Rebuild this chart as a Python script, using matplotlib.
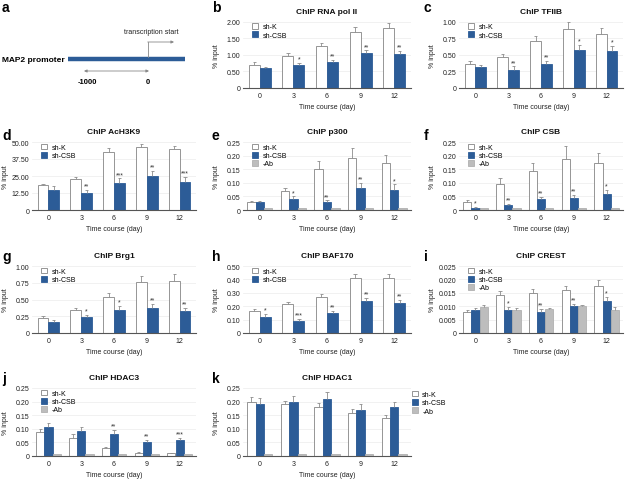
import matplotlib
matplotlib.use('Agg')
import matplotlib.pyplot as plt
import numpy as np

plt.rcParams['font.family'] = ['Liberation Sans', 'DejaVu Sans']

# ---------------- data ----------------
days = ['0', '3', '6', '9', '12']
series_names = ['sh-K', 'sh-CSB', '-Ab']

# b  ChIP RNA pol II
polII_shK = [0.70, 0.95, 1.25, 1.68, 1.80]
polII_shK_err = [0.07, 0.09, 0.09, 0.14, 0.14]
polII_shCSB = [0.59, 0.69, 0.78, 1.05, 1.03]
polII_shCSB_err = [0.05, 0.06, 0.06, 0.08, 0.08]
polII_stars = ['', '*', '**', '**', '**']

# c  ChIP TFIIB
tfiib_shK = [0.36, 0.46, 0.71, 0.885, 0.81]
tfiib_shK_err = [0.04, 0.05, 0.075, 0.10, 0.09]
tfiib_shCSB = [0.31, 0.275, 0.36, 0.565, 0.55]
tfiib_shCSB_err = [0.04, 0.05, 0.05, 0.085, 0.085]
tfiib_stars = ['', '**', '**', '*', '*']

# d  ChIP AcH3K9
ach3k9_shK = [18.5, 22.6, 42.5, 46.1, 44.5]
ach3k9_shK_err = [0.8, 1.5, 3.1, 2.4, 2.8]
ach3k9_shCSB = [15.0, 12.5, 20.2, 25.0, 20.9]
ach3k9_shCSB_err = [2.3, 2.0, 3.1, 3.8, 3.6]
ach3k9_stars = ['', '**', '***', '**', '***']

# e  ChIP p300
p300_shK = [0.030, 0.069, 0.150, 0.190, 0.171]
p300_shK_err = [0.004, 0.012, 0.030, 0.038, 0.032]
p300_shCSB = [0.030, 0.040, 0.030, 0.080, 0.075]
p300_shCSB_err = [0.004, 0.010, 0.005, 0.019, 0.019]
p300_ab = [0.008, 0.008, 0.008, 0.008, 0.008]
p300_ab_err = [0, 0, 0, 0, 0]
p300_stars = ['', '*', '**', '**', '*']

# f  ChIP CSB
csb_shK = [0.030, 0.096, 0.1425, 0.1875, 0.171]
csb_shK_err = [0.006, 0.022, 0.029, 0.047, 0.040]
csb_shCSB = [0.009, 0.019, 0.040, 0.044, 0.059]
csb_shCSB_err = [0.0035, 0.003, 0.009, 0.011, 0.015]
csb_ab = [0.008, 0.008, 0.008, 0.008, 0.008]
csb_ab_err = [0, 0, 0, 0, 0]
csb_stars = ['*', '**', '**', '**', '*']

# g  ChIP Brg1
brg1_shK = [0.22, 0.343, 0.544, 0.755, 0.78]
brg1_shK_err = [0.03, 0.037, 0.056, 0.095, 0.10]
brg1_shCSB = [0.17, 0.245, 0.348, 0.372, 0.333]
brg1_shCSB_err = [0.02, 0.03, 0.059, 0.058, 0.047]
brg1_stars = ['', '*', '*', '**', '**']

# h  ChIP BAF170
baf170_shK = [0.1675, 0.2175, 0.2675, 0.408, 0.408]
baf170_shK_err = [0.0125, 0.0175, 0.0225, 0.032, 0.032]
baf170_shCSB = [0.1225, 0.0925, 0.150, 0.2375, 0.225]
baf170_shCSB_err = [0.0175, 0.0125, 0.015, 0.0225, 0.025]
baf170_stars = ['*', '***', '**', '**', '**']

# i  ChIP CREST
crest_shK = [0.00775, 0.0140, 0.0150, 0.0159, 0.0176]
crest_shK_err = [0.0009, 0.0015, 0.0015, 0.0017, 0.0023]
crest_shCSB = [0.00875, 0.00875, 0.00775, 0.0099, 0.0119]
crest_shCSB_err = [0.0006, 0.0009, 0.0011, 0.0010, 0.0015]
crest_ab = [0.0096, 0.00875, 0.0088, 0.0099, 0.00875]
crest_ab_err = [0.0009, 0.0006, 0.0006, 0.0006, 0.0009]
crest_stars = ['', '*', '**', '**', '*']

# j  ChIP HDAC3
hdac3_shK = [0.0866, 0.068, 0.029, 0.011, 0.0098]
hdac3_shK_err = [0.0144, 0.012, 0.005, 0.0024, 0.0022]
hdac3_shCSB = [0.107, 0.0927, 0.0805, 0.050, 0.0585]
hdac3_shCSB_err = [0.016, 0.0143, 0.0145, 0.0085, 0.0095]
hdac3_ab = [0.007, 0.007, 0.007, 0.007, 0.007]
hdac3_ab_err = [0, 0, 0, 0, 0]
hdac3_stars = ['', '', '**', '**', '***']

# k  ChIP HDAC1
hdac1_shK = [0.200, 0.190, 0.179, 0.159, 0.140]
hdac1_shK_err = [0.016, 0.014, 0.017, 0.013, 0.010]
hdac1_shCSB = [0.190, 0.200, 0.209, 0.169, 0.179]
hdac1_shCSB_err = [0.0225, 0.021, 0.026, 0.021, 0.021]
hdac1_ab = [0.006, 0.006, 0.006, 0.006, 0.006]
hdac1_ab_err = [0, 0, 0, 0, 0]
hdac1_stars = ['', '', '', '', '']

# ---------------- style ----------------
W, H = 633, 481
FACE = ['#ffffff', '#2c5c97', '#bdbdbd']
EDGE = ['#858585', '#2c5c97', '#b0b0b0']
ERRC = '#8c8c8c'
BLUE = '#2c5c97'

fig = plt.figure(figsize=(W / 100, H / 100), dpi=100)


def pos(x0, x1, yt, yb):
    return [x0 / W, 1 - yb / H, (x1 - x0) / W, (yb - yt) / H]


COLS = [(32, 196), (243, 411), (459, 623)]
ROWS = [(22.5, 89), (143, 211), (267, 334), (389, 457)]

panels = [
    dict(letter='b', title='ChIP RNA pol II', col=1, row=0,
         ticks=[0, 0.5, 1.0, 1.5, 2.0], dec=2,
         series=[(polII_shK, polII_shK_err), (polII_shCSB, polII_shCSB_err)],
         stars=polII_stars),
    dict(letter='c', title='ChIP TFIIB', col=2, row=0,
         ticks=[0, 0.25, 0.5, 0.75, 1.0], dec=2,
         series=[(tfiib_shK, tfiib_shK_err), (tfiib_shCSB, tfiib_shCSB_err)],
         stars=tfiib_stars),
    dict(letter='d', title='ChIP AcH3K9', col=0, row=1,
         ticks=[0, 12.5, 25.0, 37.5, 50.0], dec=2,
         series=[(ach3k9_shK, ach3k9_shK_err), (ach3k9_shCSB, ach3k9_shCSB_err)],
         stars=ach3k9_stars),
    dict(letter='e', title='ChIP p300', col=1, row=1,
         ticks=[0, 0.05, 0.10, 0.15, 0.20, 0.25], dec=2,
         series=[(p300_shK, p300_shK_err), (p300_shCSB, p300_shCSB_err), (p300_ab, p300_ab_err)],
         stars=p300_stars),
    dict(letter='f', title='ChIP CSB', col=2, row=1,
         ticks=[0, 0.05, 0.10, 0.15, 0.20, 0.25], dec=2,
         series=[(csb_shK, csb_shK_err), (csb_shCSB, csb_shCSB_err), (csb_ab, csb_ab_err)],
         stars=csb_stars),
    dict(letter='g', title='ChIP Brg1', col=0, row=2,
         ticks=[0, 0.25, 0.5, 0.75, 1.0], dec=2,
         series=[(brg1_shK, brg1_shK_err), (brg1_shCSB, brg1_shCSB_err)],
         stars=brg1_stars),
    dict(letter='h', title='ChIP BAF170', col=1, row=2,
         ticks=[0, 0.1, 0.2, 0.3, 0.4, 0.5], dec=2,
         series=[(baf170_shK, baf170_shK_err), (baf170_shCSB, baf170_shCSB_err)],
         stars=baf170_stars),
    dict(letter='i', title='ChIP CREST', col=2, row=2,
         ticks=[0, 0.005, 0.010, 0.015, 0.020, 0.025], dec=3,
         series=[(crest_shK, crest_shK_err), (crest_shCSB, crest_shCSB_err), (crest_ab, crest_ab_err)],
         stars=crest_stars),
    dict(letter='j', title='ChIP HDAC3', col=0, row=3,
         ticks=[0, 0.05, 0.10, 0.15, 0.20, 0.25], dec=2,
         series=[(hdac3_shK, hdac3_shK_err), (hdac3_shCSB, hdac3_shCSB_err), (hdac3_ab, hdac3_ab_err)],
         stars=hdac3_stars),
    dict(letter='k', title='ChIP HDAC1', col=1, row=3,
         ticks=[0, 0.05, 0.10, 0.15, 0.20, 0.25], dec=2,
         series=[(hdac1_shK, hdac1_shK_err), (hdac1_shCSB, hdac1_shCSB_err), (hdac1_ab, hdac1_ab_err)],
         stars=hdac1_stars, legend_out=True),
]

LETTER_X = [2, 212, 424]
LETTER_Y = [8, 136, 257, 379]

for p in panels:
    x0, x1 = COLS[p['col']]
    yt, yb = ROWS[p['row']]
    ax = fig.add_axes(pos(x0, x1, yt, yb))
    n = len(p['series'])
    x = np.arange(len(days))
    w = 0.33 if n == 2 else 0.25
    offs = (np.arange(n) - (n - 1) / 2) * w
    for i, (vals, errs) in enumerate(p['series']):
        vals = np.asarray(vals, float)
        errs = np.asarray(errs, float)
        xs = x + offs[i]
        ax.bar(xs, vals, w, color=FACE[i], edgecolor=EDGE[i], linewidth=0.6,
               label=series_names[i], zorder=2)
        m = errs > 0
        ax.vlines(xs[m], vals[m], vals[m] + errs[m], color=ERRC, lw=0.6, zorder=3)
        ax.hlines(vals[m] + errs[m], xs[m] - 0.05, xs[m] + 0.05, color=ERRC, lw=0.6, zorder=3)
    bv = np.asarray(p['series'][1][0], float)
    be = np.asarray(p['series'][1][1], float)
    for xi, v, e, s in zip(x + offs[1], bv, be, p['stars']):
        if s:
            ax.annotate(s, (xi, v + e), xytext=(0, 0.3), textcoords='offset points',
                        ha='center', va='bottom', fontsize=5, color='#333333')
    ax.set_xlim(-0.5, 4.5)
    ax.set_ylim(0, p['ticks'][-1])
    ax.set_yticks(p['ticks'])
    dec = p['dec']
    ax.set_yticklabels(['0' if t == 0 else f'{t:.{dec}f}' for t in p['ticks']])
    ax.set_xticks(x)
    ax.set_xticklabels(days)
    ax.tick_params(axis='both', length=0, labelsize=5, colors='#222222')
    ax.tick_params(axis='y', pad=2)
    ax.tick_params(axis='x', pad=3)
    for s in ['top', 'right', 'left']:
        ax.spines[s].set_visible(False)
    ax.spines['bottom'].set_color('#555555')
    ax.spines['bottom'].set_linewidth(0.8)
    ax.yaxis.grid(True, color='#ececec', lw=0.5)
    ax.set_axisbelow(True)
    ax.set_xlabel('Time course (day)', fontsize=5, labelpad=3, color='#222222')
    ax.set_ylabel('% input', fontsize=5, color='#222222')
    ax.yaxis.set_label_coords(-23 / (x1 - x0), 0.5)
    ax.set_title(p['title'], fontsize=6, fontweight='bold', pad=6.3, color='#111111')
    if p.get('legend_out'):
        ax.legend(loc='upper left', bbox_to_anchor=(1.005, 0.96), frameon=False,
                  fontsize=5, handlelength=0.9, handleheight=0.9, handletextpad=0.6,
                  labelspacing=0.15, borderpad=0, borderaxespad=0)
    else:
        ax.legend(loc='upper left', bbox_to_anchor=(9 / (x1 - x0), 1 - 1.5 / (yb - yt)),
                  frameon=False, fontsize=5, handlelength=0.9, handleheight=0.9,
                  handletextpad=0.6, labelspacing=0.15, borderpad=0, borderaxespad=0)
    fig.text(LETTER_X[p['col']] / W, 1 - LETTER_Y[p['row']] / H, p['letter'],
             fontsize=10, fontweight='bold', ha='left', va='center')

# ---------------- panel a (schematic) ----------------
axa = fig.add_axes([0, 0, 1, 1], zorder=-1)
axa.set_xlim(0, W)
axa.set_ylim(H, 0)
axa.axis('off')
fig.text(2 / W, 1 - 8 / H, 'a', fontsize=10, fontweight='bold', ha='left', va='center')
axa.text(2, 60, 'MAP2 promoter', fontsize=6, fontweight='bold', ha='left', va='center')
axa.plot([68, 185], [59.5, 59.5], color=BLUE, lw=3.2, solid_capstyle='butt')
axa.plot([148, 148], [58, 43], color='#888888', lw=0.6)
axa.annotate('', xy=(174, 43), xytext=(147.7, 43),
             arrowprops=dict(arrowstyle='-|>', color='#888888', lw=0.6,
                             mutation_scale=4, shrinkA=0, shrinkB=0))
axa.text(151, 32, 'transcription start', fontsize=5, ha='center', va='center', color='#222222')
axa.annotate('', xy=(84, 72), xytext=(149, 72),
             arrowprops=dict(arrowstyle='<|-|>', color='#888888', lw=0.6,
                             mutation_scale=4, shrinkA=0, shrinkB=0))
axa.text(87, 83, '-1000', fontsize=5.5, fontweight='bold', ha='center', va='center')
axa.text(148, 83, '0', fontsize=5.5, fontweight='bold', ha='center', va='center')

fig.savefig('out.png', dpi=100)
